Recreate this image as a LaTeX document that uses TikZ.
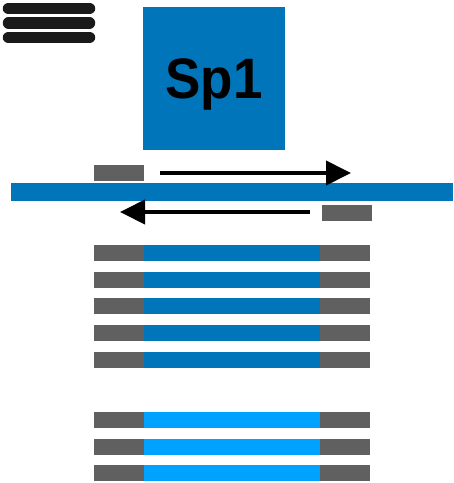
\documentclass[tikz,border=0pt]{standalone}
\usepackage{fontspec}
\setmainfont{Liberation Sans}
\usepackage{xcolor}
\usetikzlibrary{arrows.meta}

\definecolor{dnablue}{RGB}{0,117,186}
\definecolor{lightblue}{RGB}{0,162,255}
\definecolor{primergray}{RGB}{96,96,96}
\definecolor{barblack}{RGB}{26,26,26}

\tikzset{
  primer/.style={rectangle, fill=primergray, inner sep=0pt, minimum width=50pt, minimum height=16pt},
  product/.style={rectangle, inner sep=0pt, minimum width=176pt, minimum height=16pt},
  strandarrow/.style={line width=4pt, -{Triangle[length=25pt,width=24pt]}}
}

\begin{document}
\begin{tikzpicture}[x=1pt,y=-1pt]
            \useasboundingbox (0,0) rectangle (454,483);
            % menu bars in the corner
            \draw[barblack, line width=11.5pt, line cap=round] (8.5,8.5) -- (89.5,8.5);
            \draw[barblack, line width=11.5pt, line cap=round] (8.5,23) -- (89.5,23);
            \draw[barblack, line width=11.5pt, line cap=round] (8.5,37.5) -- (89.5,37.5);
            % Sp1 box
            \node at (214,78.5) (sp1) [rectangle, fill=dnablue, minimum width=142pt, minimum height=143pt, text depth=0pt, font=\fontsize{57}{57}\selectfont\bfseries] {\scalebox{0.93}[1]{Sp1}};
            % template strand with the two primers
            \node at (232,192) (template) [rectangle, fill=dnablue, inner sep=0pt, minimum width=442pt, minimum height=18pt] {};
            \node at (119,173) (fwd) [primer] {};
            \node at (347,213) (rev) [primer] {};
            \coordinate (fwdstart) at (160,173);
            \coordinate (fwdend) at (351,173);
            \coordinate (revstart) at (310,212);
            \coordinate (revend) at (120,212);
            \draw[strandarrow] (fwdstart) -- (fwdend);
            \draw[strandarrow] (revstart) -- (revend);
            % amplified products
            \foreach \y/\c [count=\i] in {253/dnablue, 279.5/dnablue, 306/dnablue, 333/dnablue, 359.5/dnablue, 420/lightblue, 446.5/lightblue, 473/lightblue} {
              \node at (232,\y) (prod\i) [product, fill=\c] {};
              \node at (119,\y) (left\i) [primer] {};
              \node at (345,\y) (right\i) [primer] {};
            }
        \end{tikzpicture}
\end{document}
